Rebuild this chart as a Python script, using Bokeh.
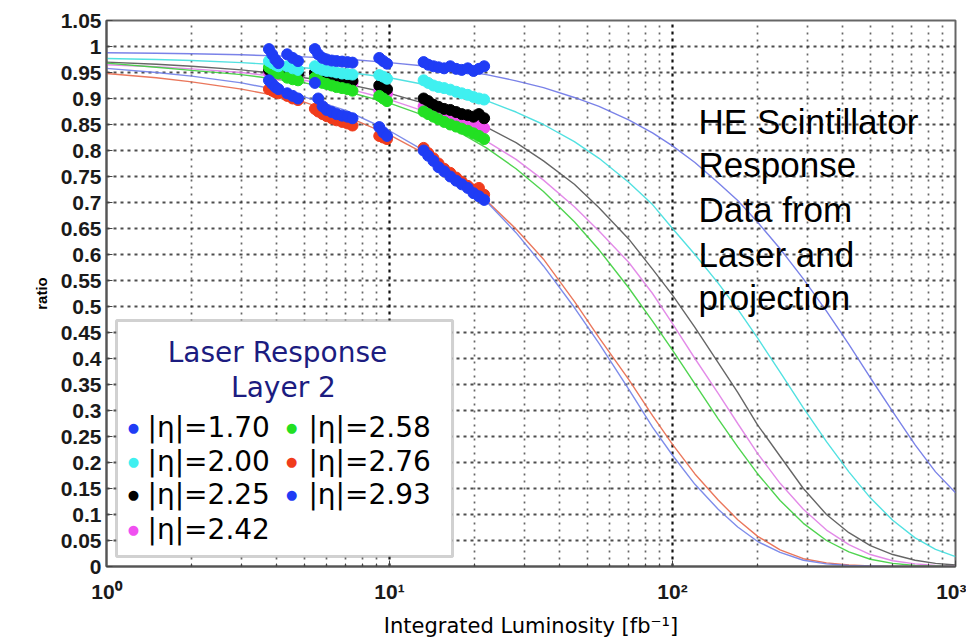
from bokeh.plotting import figure
from bokeh.models import FixedTicker, BoxAnnotation, Label, Range1d
from bokeh.embed import file_html
from bokeh.resources import INLINE

# ---------------- data ----------------
series_names = ["|η|=1.70", "|η|=2.00", "|η|=2.25", "|η|=2.42", "|η|=2.58", "|η|=2.76", "|η|=2.93"]

# measured laser points: integrated luminosity [fb^-1]
data_L = [3.75, 3.85, 3.95, 4.05, 4.35, 4.55, 4.75, 5.45, 5.6, 5.8, 6.0, 6.25, 6.5, 6.8, 7.1, 7.4,
          9.2, 9.5, 9.8, 13.2, 13.7, 14.3, 14.9, 15.6, 16.4, 17.2, 18.0, 18.9, 19.8, 20.7, 21.6]

data_170 = [0.995, 0.985, 0.975, 0.968, 0.985, 0.978, 0.972, 0.995, 0.985, 0.978, 0.975, 0.973, 0.972,
            0.971, 0.970, 0.969, 0.978, 0.972, 0.967, 0.970, 0.965, 0.962, 0.960, 0.958, 0.962, 0.957,
            0.955, 0.958, 0.953, 0.957, 0.962]
data_200 = [0.972, 0.968, 0.965, 0.962, 0.962, 0.958, 0.955, 0.962, 0.958, 0.955, 0.953, 0.952, 0.950,
            0.948, 0.947, 0.946, 0.945, 0.942, 0.938, 0.935, 0.930, 0.925, 0.922, 0.920, 0.917, 0.913,
            0.910, 0.907, 0.903, 0.900, 0.898]
data_225 = [0.955, 0.953, 0.952, 0.950, 0.950, 0.948, 0.947, 0.950, 0.948, 0.946, 0.944, 0.942, 0.940,
            0.938, 0.936, 0.934, 0.925, 0.922, 0.918, 0.900, 0.895, 0.888, 0.884, 0.880, 0.878, 0.874,
            0.870, 0.868, 0.865, 0.870, 0.862]
data_242 = [0.950, 0.948, 0.947, 0.946, 0.946, 0.945, 0.944, 0.945, 0.943, 0.941, 0.939, 0.937, 0.935,
            0.933, 0.931, 0.929, 0.915, 0.912, 0.909, 0.885, 0.880, 0.876, 0.872, 0.868, 0.864, 0.860,
            0.856, 0.853, 0.850, 0.847, 0.843]
data_258 = [0.960, 0.955, 0.950, 0.948, 0.940, 0.937, 0.935, 0.940, 0.935, 0.930, 0.928, 0.925, 0.922,
            0.920, 0.918, 0.915, 0.905, 0.900, 0.895, 0.875, 0.870, 0.865, 0.860, 0.855, 0.850, 0.846,
            0.842, 0.838, 0.833, 0.828, 0.822]
data_276 = [0.918, 0.915, 0.912, 0.910, 0.905, 0.900, 0.897, 0.880, 0.875, 0.870, 0.866, 0.862, 0.858,
            0.855, 0.852, 0.848, 0.828, 0.825, 0.822, 0.805, 0.795, 0.785, 0.775, 0.765, 0.757, 0.748,
            0.740, 0.732, 0.725, 0.728, 0.715]
data_293 = [0.935, 0.928, 0.922, 0.918, 0.910, 0.905, 0.900, 0.930, 0.900, 0.885, 0.878, 0.874, 0.870,
            0.867, 0.865, 0.862, 0.845, 0.835, 0.828, 0.800, 0.790, 0.780, 0.768, 0.760, 0.750, 0.742,
            0.735, 0.728, 0.718, 0.712, 0.705]

# projection curves, read at these luminosities
fit_L = [1, 1.5, 2, 3, 4, 5, 7, 10, 13, 17, 22, 28, 35, 45, 55, 70, 85, 100, 120, 145, 170, 200,
         240, 290, 350, 420, 500, 600, 720, 850, 1000]
fit_170 = [0.988, 0.987, 0.986, 0.984, 0.982, 0.980, 0.976, 0.969, 0.963, 0.955, 0.946, 0.934, 0.921,
           0.902, 0.885, 0.859, 0.834, 0.809, 0.777, 0.738, 0.704, 0.662, 0.611, 0.553, 0.491, 0.427,
           0.363, 0.298, 0.234, 0.182, 0.142]
fit_200 = [0.977, 0.975, 0.973, 0.969, 0.965, 0.959, 0.951, 0.940, 0.928, 0.913, 0.896, 0.874, 0.850,
           0.817, 0.785, 0.739, 0.696, 0.650, 0.600, 0.545, 0.495, 0.439, 0.374, 0.305, 0.240, 0.182,
           0.132, 0.089, 0.055, 0.033, 0.019]
fit_225 = [0.970, 0.966, 0.962, 0.955, 0.948, 0.940, 0.928, 0.910, 0.892, 0.870, 0.845, 0.815, 0.780,
           0.735, 0.690, 0.630, 0.572, 0.522, 0.460, 0.392, 0.335, 0.272, 0.212, 0.150, 0.100, 0.065,
           0.040, 0.023, 0.012, 0.006, 0.003]
fit_242 = [0.965, 0.961, 0.957, 0.950, 0.942, 0.935, 0.920, 0.898, 0.877, 0.850, 0.818, 0.783, 0.743,
           0.692, 0.645, 0.585, 0.525, 0.467, 0.400, 0.333, 0.275, 0.217, 0.160, 0.110, 0.070, 0.042,
           0.023, 0.011, 0.005, 0.002, 0.001]
fit_258 = [0.968, 0.960, 0.954, 0.946, 0.937, 0.930, 0.914, 0.891, 0.869, 0.840, 0.805, 0.765, 0.721,
           0.663, 0.609, 0.536, 0.472, 0.416, 0.351, 0.284, 0.230, 0.178, 0.127, 0.083, 0.050, 0.028,
           0.014, 0.006, 0.002, 0.001, 0.0]
fit_276 = [0.948, 0.940, 0.932, 0.918, 0.905, 0.893, 0.866, 0.830, 0.797, 0.753, 0.704, 0.649, 0.591,
           0.510, 0.440, 0.360, 0.290, 0.235, 0.178, 0.128, 0.090, 0.058, 0.032, 0.015, 0.007, 0.003,
           0.001, 0.0, 0.0, 0.0, 0.0]
fit_293 = [0.958, 0.950, 0.943, 0.930, 0.917, 0.903, 0.877, 0.838, 0.802, 0.756, 0.702, 0.642, 0.578,
           0.498, 0.429, 0.341, 0.268, 0.214, 0.158, 0.110, 0.076, 0.048, 0.027, 0.012, 0.005, 0.002,
           0.001, 0.0, 0.0, 0.0, 0.0]

y_ticks = [round(i * 0.05, 2) for i in range(22)]
x_major = [1, 10, 100, 1000]
x_minor = [m * d for d in (1, 10, 100) for m in range(2, 10)]
x_labels = {1: "10⁰", 10: "10¹", 100: "10²", 1000: "10³"}

# ---------------- styles ----------------
marker_colors = ["#1f3cf5", "#3ff0f0", "#000000", "#f050f0", "#22e022", "#f03c1c", "#1f3cf5"]
line_colors = ["#6b74e6", "#3fdede", "#555555", "#e07ee6", "#3ccf3c", "#e8684a", "#7080e8"]

p = figure(width=966, height=640, x_axis_type="log",
           x_range=Range1d(1, 1000), y_range=Range1d(0, 1.05),
           output_backend="svg", toolbar_location=None,
           min_border_left=106, min_border_right=11, min_border_top=20, min_border_bottom=73)
p.background_fill_color = "white"
p.border_fill_color = "white"
p.outline_line_color = "#666666"
p.outline_line_width = 2

# axes
xt = FixedTicker(ticks=x_major, minor_ticks=x_minor)
yt = FixedTicker(ticks=y_ticks)
p.xaxis.ticker = xt
p.xgrid.ticker = xt
p.yaxis.ticker = yt
p.ygrid.ticker = yt
p.xaxis.major_label_overrides = x_labels
p.yaxis.major_label_overrides = {t: ("1" if t == 1.0 else "0" if t == 0 else f"{t:g}") for t in y_ticks}

for ax in (p.xaxis[0], p.yaxis[0]):
    ax.major_label_text_font = "Liberation Sans"
    ax.major_label_text_font_style = "bold"
    ax.major_label_text_font_size = "21px"
    ax.major_label_text_color = "#1a1a1a"
    ax.axis_line_color = "#555555"
    ax.axis_line_width = 2
    ax.major_tick_out = 0
    ax.major_tick_in = 6
    ax.minor_tick_out = 0
    ax.minor_tick_in = 3
    ax.major_tick_line_color = "#444444"
    ax.minor_tick_line_color = "#444444"

p.xaxis.major_label_standoff = 13
p.yaxis.major_label_standoff = 5
p.xaxis.axis_label = "Integrated Luminosity [fb⁻¹]"
p.xaxis.axis_label_text_font = "DejaVu Sans"
p.xaxis.axis_label_text_font_style = "normal"
p.xaxis.axis_label_text_font_size = "21px"
p.xaxis.axis_label_text_color = "black"
p.xaxis.axis_label_standoff = 8
p.yaxis.axis_label = "ratio"
p.yaxis.axis_label_text_font = "Liberation Sans"
p.yaxis.axis_label_text_font_style = "bold"
p.yaxis.axis_label_text_font_size = "15px"
p.yaxis.axis_label_text_color = "black"
p.yaxis.axis_label_standoff = 8

# grids
p.ygrid.grid_line_color = "#222222"
p.ygrid.grid_line_dash = "3 4"
p.ygrid.grid_line_width = 2
p.ygrid.grid_line_alpha = 0.8
p.xgrid.grid_line_color = "#111111"
p.xgrid.grid_line_dash = "3 4"
p.xgrid.grid_line_width = 2.2
p.xgrid.minor_grid_line_color = "#333333"
p.xgrid.minor_grid_line_dash = "2 5"
p.xgrid.minor_grid_line_width = 1.7
p.xgrid.minor_grid_line_alpha = 0.75

# curves
fits = [fit_170, fit_200, fit_225, fit_242, fit_258, fit_276, fit_293]
for fr, c in zip(fits, line_colors):
    p.line(fit_L, fr, line_color=c, line_width=1.4, line_alpha=0.9)

# data points (draw order: magenta, black, green, cyan, red, blue lower, blue upper)
datas = [data_170, data_200, data_225, data_242, data_258, data_276, data_293]
for i in [3, 2, 4, 1, 5, 6, 0]:
    p.scatter(data_L, datas[i], marker="circle", size=11, fill_color=marker_colors[i],
              line_color=marker_colors[i], line_width=1)

# legend box (manual)
p.add_layout(BoxAnnotation(left=1.085, right=16.7, bottom=0.019, top=0.473,
                           fill_color="white", fill_alpha=1.0,
                           line_color="#666666", line_width=3, level="annotation"))
p.add_layout(Label(x=4.02, y=0.412, text="Laser Response", text_align="center", text_baseline="middle",
                   text_font="DejaVu Sans", text_font_size="28px", text_color="#1c1c80"))
p.add_layout(Label(x=4.22, y=0.345, text="Layer 2", text_align="center", text_baseline="middle",
                   text_font="DejaVu Sans", text_font_size="28px", text_color="#1c1c80"))
legend_pos = [(1.245, 1.396, 0.268), (1.245, 1.396, 0.201), (1.245, 1.396, 0.138), (1.245, 1.396, 0.071),
              (4.51, 5.17, 0.268), (4.51, 5.17, 0.201), (4.51, 5.17, 0.138)]
for (dx, tx, ty), name, c in zip(legend_pos, series_names, marker_colors):
    p.add_layout(Label(x=dx, y=ty, text="●", text_align="center", text_baseline="middle",
                       text_font="DejaVu Sans", text_font_size="13px", text_color=c))
    p.add_layout(Label(x=tx, y=ty, text=name, text_align="left", text_baseline="middle",
                       text_font="DejaVu Sans", text_font_size="28px", text_color="black"))

# side annotation
note_lines = ["HE Scintillator", "Response", "Data from", "Laser and", "projection"]
note_y = [0.856, 0.774, 0.686, 0.600, 0.517]
for t, yy in zip(note_lines, note_y):
    p.add_layout(Label(x=123.6, y=yy, text=t, text_align="left", text_baseline="middle",
                       text_font="Liberation Sans", text_font_size="35px", text_color="black"))

open("out.html", "w").write(file_html(p, INLINE))
